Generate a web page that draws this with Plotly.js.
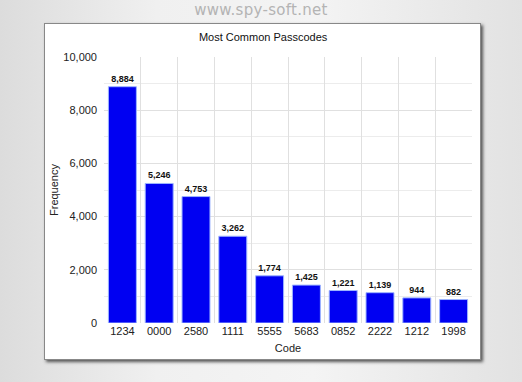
<!DOCTYPE html>
<html><head><meta charset="utf-8">
<script src="https://cdn.plot.ly/plotly-3.0.1.min.js"></script>
<style>
html,body{margin:0;padding:0;width:522px;height:382px;overflow:hidden;}
body{background:linear-gradient(90deg,#dcdcdc 0%,#f0f0f0 30%,#f4f4f4 60%,#e2e2e2 100%);position:relative;font-family:"Liberation Sans",Arial,sans-serif;}
#panel{position:absolute;left:44px;top:23px;width:435px;height:335px;background:#fff;border:1px solid #888;box-shadow:2px 2px 3px #555;}
#wm{position:absolute;left:0;width:522px;top:1px;text-align:center;font-family:"DejaVu Sans",sans-serif;font-size:15px;color:#b4b4b4;letter-spacing:0.3px;}
#chart{position:absolute;left:0;top:0;width:522px;height:382px;}
</style></head>
<body>
<div id="wm">www.spy-soft.net</div>
<div id="panel"></div>
<div id="chart"></div>
<script>
const codes = ["1234","0000","2580","1111","5555","5683","0852","2222","1212","1998"];
const frequency = [8884,5246,4753,3262,1774,1425,1221,1139,944,882];
const labels = frequency.map(v => v.toLocaleString("en-US"));

const trace = {
  type: "bar",
  x: codes,
  y: frequency,
  text: labels,
  textposition: "outside",
  cliponaxis: false,
  textfont: {family: "Liberation Sans, Arial, sans-serif", size: 9, color: "#111", weight: "bold"},
  marker: {color: "#0000f2", line: {color: "#9db4ff", width: 1}},
  hoverinfo: "none"
};

const layout = {
  width: 522, height: 382,
  margin: {l: 104, r: 50, t: 57, b: 59, pad: 0},
  paper_bgcolor: "rgba(0,0,0,0)",
  plot_bgcolor: "#fff",
  bargap: 0.24,
  showlegend: false,
  font: {family: "Liberation Sans, Arial, sans-serif", color: "#222", size: 11},
  title: {text: "Most Common Passcodes", x: 0.504, xanchor: "center", y: 0.903, yanchor: "middle",
          font: {size: 11, color: "#111"}},
  xaxis: {
    type: "category",
    tickson: "boundaries",
    showgrid: true, gridcolor: "#e0e0e0", gridwidth: 1,
    ticks: "", tickfont: {size: 11, color: "#222"},
    zeroline: false, showline: false,
    title: {text: "Code", font: {size: 11, color: "#222"}, standoff: 8}
  },
  yaxis: {
    range: [0, 10000],
    dtick: 2000,
    tickformat: ",d",
    showgrid: true, gridcolor: "#e0e0e0", gridwidth: 1,
    minor: {dtick: 1000, showgrid: true, gridcolor: "#ececec"},
    zeroline: false, showline: false,
    ticks: "", ticklabelstandoff: 6,
    tickfont: {size: 11, color: "#222"},
    title: {text: "Frequency", font: {size: 11, color: "#222"}, standoff: 2}
  }
};

Plotly.newPlot("chart", [trace], layout, {staticPlot: true, displayModeBar: false});
</script>
</body></html>
